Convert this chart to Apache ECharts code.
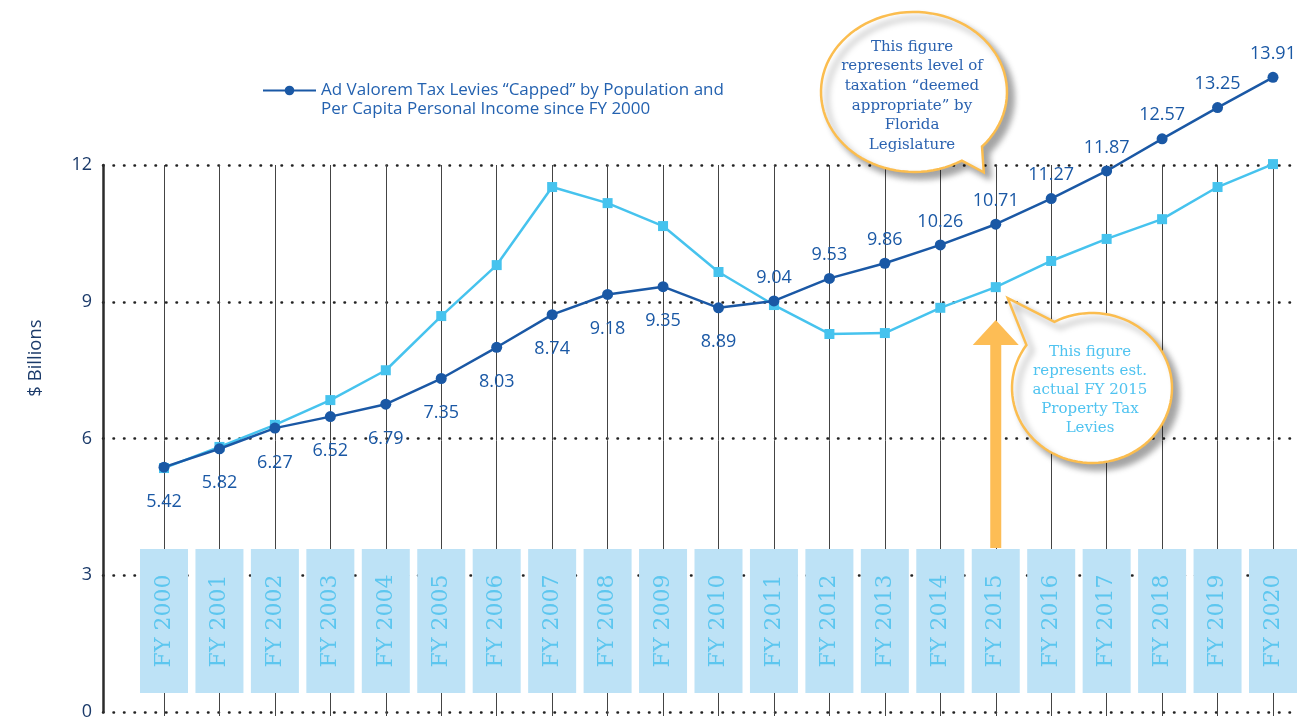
<!DOCTYPE html>
<html><head><meta charset="utf-8">
<script src="https://cdn.jsdelivr.net/npm/echarts@6/dist/echarts.min.js"></script>
<style>html,body{margin:0;padding:0;background:#fff}#c{width:1316px;height:721px}</style>
</head><body><div id="c"></div>
<script>
const categories = ['FY 2000','FY 2001','FY 2002','FY 2003','FY 2004','FY 2005','FY 2006','FY 2007','FY 2008','FY 2009','FY 2010','FY 2011','FY 2012','FY 2013','FY 2014','FY 2015','FY 2016','FY 2017','FY 2018','FY 2019','FY 2020'];
const cappedLevies = [5.42,5.82,6.27,6.52,6.79,7.35,8.03,8.74,9.18,9.35,8.89,9.04,9.53,9.86,10.26,10.71,11.27,11.87,12.57,13.25,13.91];
const actualLevies = [5.40,5.86,6.34,6.88,7.53,8.71,9.82,11.52,11.17,10.67,9.67,8.95,8.32,8.34,8.89,9.34,9.91,10.39,10.82,11.52,12.02];
const yMin = 0, yMax = 12, yStep = 3;
const cappedName = 'Ad Valorem Tax Levies \u201cCapped\u201d by Population and\nPer Capita Personal Income since FY 2000';
const actualName = 'Est. Actual Property Tax Levies';
const yAxisTitle = '$ Billions';
const noteLegislature = ['This figure','represents level of','taxation \u201cdeemed','appropriate\u201d by','Florida','Legislature'];
const noteActual = ['This figure','represents est.','actual FY 2015','Property Tax','Levies'];
const arrowCategory = 'FY 2015';

const DARK = '#1a58a5', LIGHT = '#46c3ee', ORANGE = '#fdbd55', NAVY = '#1c3b6a';
const SANS = '"Open Sans", Lato, sans-serif';
const SERIF = '"DejaVu Serif", serif';

const chart = echarts.init(document.getElementById('c'));
chart.setOption({
  animation: false,
  backgroundColor: '#fff',
  legend: {
    data: [cappedName], left: 262, top: 62, padding: 0,
    itemWidth: 53, itemHeight: 12, itemGap: 14,
    formatter: name => ' \n' + name,
    textStyle: { color: '#2462b0', fontSize: 17, lineHeight: 19, fontFamily: SANS }
  },
  grid: [
    { left: 103, right: 16, top: 165, bottom: 5 },
    { left: 164, right: 43, top: 165, bottom: 5 }
  ],
  xAxis: [
    { gridIndex: 0, type: 'value', show: false, min: 0, max: 1 },
    { gridIndex: 1, type: 'category', data: categories, boundaryGap: false, z: 1,
      axisLine: { show: false }, axisTick: { show: false },
      splitLine: { show: true, interval: 0, lineStyle: { color: '#444', width: 1 } },
      axisLabel: { inside: true, rotate: 90, margin: 23, interval: 0,
        formatter: v => '{b|' + v + '}',
        rich: { b: { fontFamily: SERIF, fontSize: 22, color: '#5cc6ef', backgroundColor: '#bde2f6',
                     width: 144, height: 48, lineHeight: 48, align: 'center', verticalAlign: 'middle' } } } }
  ],
  yAxis: [
    { gridIndex: 0, type: 'value', min: yMin, max: yMax, interval: yStep, z: 0,
      axisLine: { show: true, lineStyle: { color: '#2b2b2b', width: 2.5 } },
      axisTick: { show: false },
      axisLabel: { color: NAVY, fontSize: 18, margin: 11, fontFamily: SANS },
      splitLine: { show: true, lineStyle: { type: [0.5, 10], cap: 'round', width: 2.5, color: '#222' } } },
    { gridIndex: 1, type: 'value', min: yMin, max: yMax, show: false }
  ],
  series: [
    { name: actualName, type: 'line', xAxisIndex: 1, yAxisIndex: 1, data: actualLevies, clip: false, z: 3,
      symbol: 'rect', symbolSize: 10, lineStyle: { color: LIGHT, width: 2.5 }, itemStyle: { color: LIGHT } },
    { name: cappedName, type: 'line', xAxisIndex: 1, yAxisIndex: 1, clip: false, z: 4,
      data: cappedLevies.map((v, i) => {
        const below = v < actualLevies[i] || i <= 10;
        return { value: v, label: { position: below ? 'bottom' : 'top', distance: below ? 20 : 9 } };
      }),
      symbol: 'circle', symbolSize: 11, lineStyle: { color: DARK, width: 2.5 }, itemStyle: { color: DARK },
      label: { show: true, fontSize: 18, color: DARK, fontFamily: SANS } }
  ]
});

function bubble(cx, cy, rx, ry, a1, a2, tip) {
  // ellipse outline from angle a1 going clockwise round to a2, then the tail tip
  const pts = [];
  let span = a2 - a1; if (span <= 0) span += 360;
  const n = 90;
  for (let k = 0; k <= n; k++) {
    const a = (a1 + span * k / n) * Math.PI / 180;
    pts.push([cx + rx * Math.cos(a), cy + ry * Math.sin(a)]);
  }
  pts.push(tip);
  return pts;
}
const ax = chart.convertToPixel({ xAxisIndex: 1 }, arrowCategory);
const tipActual = chart.convertToPixel({ xAxisIndex: 1, yAxisIndex: 1 }, [arrowCategory, actualLevies[categories.indexOf(arrowCategory)]]);
const tipCapped = chart.convertToPixel({ xAxisIndex: 1, yAxisIndex: 1 }, [arrowCategory, cappedLevies[categories.indexOf(arrowCategory)]]);
const shadow = { shadowBlur: 6, shadowColor: 'rgba(0,0,0,0.35)', shadowOffsetX: 6, shadowOffsetY: 6 };
chart.setOption({
  graphic: [
    { type: 'text', x: 36, y: 358, rotation: Math.PI / 2, z: 10,
      style: { text: yAxisTitle, fill: NAVY, font: '18.5px ' + SANS, align: 'center', verticalAlign: 'middle' } },
    { type: 'polygon', z: 50,
      shape: { points: [[ax - 5.5, 548], [ax - 5.5, 345], [ax - 23, 345], [ax, 320], [ax + 23, 345], [ax + 5.5, 345], [ax + 5.5, 548]] },
      style: { fill: ORANGE } },
    { type: 'polygon', z: 100,
      shape: { points: bubble(914, 92, 93, 80, 59, 43, [tipCapped[0] - 12, tipCapped[1] - 52]) },
      style: Object.assign({ fill: '#fff', stroke: '#fbbd4f', lineWidth: 2.5 }, shadow) },
    { type: 'text', x: 912, y: 96, z: 101,
      style: { text: noteLegislature.join('\n'), fill: '#2a62b0', font: '15px ' + SERIF, lineHeight: 19.6, align: 'center', verticalAlign: 'middle' } },
    { type: 'polygon', z: 100,
      shape: { points: bubble(1092, 388, 80, 75, 242, 215, [tipActual[0] + 12, tipActual[1] + 11]) },
      style: Object.assign({ fill: '#fff', stroke: '#fbbd4f', lineWidth: 2.5 }, shadow) },
    { type: 'text', x: 1090, y: 390, z: 101,
      style: { text: noteActual.join('\n'), fill: '#4fc3f0', font: '15px ' + SERIF, lineHeight: 19, align: 'center', verticalAlign: 'middle' } }
  ]
});
</script>
</body></html>
